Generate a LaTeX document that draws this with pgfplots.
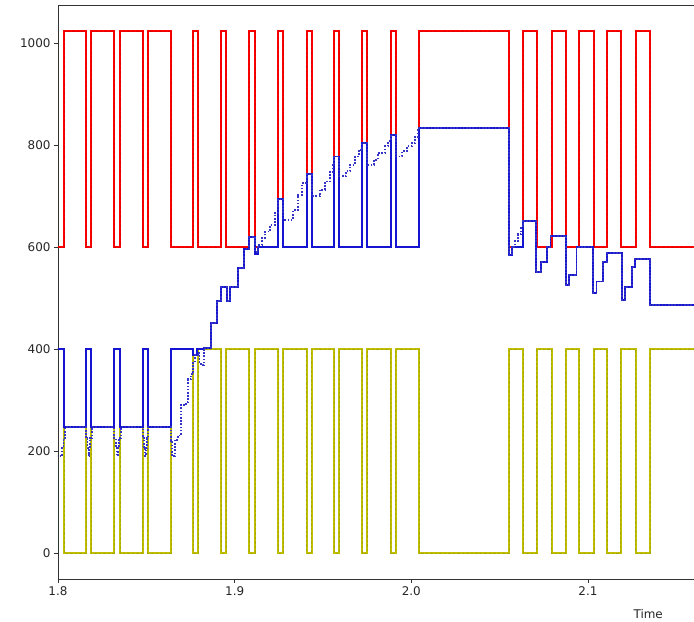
\documentclass[border=0pt]{standalone}
\usepackage{pgfplots}
\pgfplotsset{compat=1.18}
\usepackage{fontspec}
\setmainfont{DejaVu Sans}
\definecolor{mred}{rgb}{1,0,0}
\definecolor{myel}{rgb}{0.75,0.75,0}
\definecolor{mblue}{rgb}{0.08,0.08,0.82}
\definecolor{mblued}{rgb}{0.2,0.2,0.78}
\begin{document}
\begin{tikzpicture}
\begin{axis}[
  scale only axis, width=636bp, height=573.9bp,
  xmin=1.8, xmax=2.16, ymin=-51.15, ymax=1074.15,
  xtick={1.8,1.9,2.0,2.1}, xticklabels={1.8,1.9,2.0,2.1},
  ytick={0,200,400,600,800,1000},
  /pgf/number format/1000 sep={},
  tick pos=left, tick align=outside, major tick length=4bp,
  tick style={black!80, line width=0.6bp},
  axis line style={black!80, line width=0.6bp},
  ticklabel style={font=\fontsize{12}{14}\selectfont, text=black!85},
  /pgf/number format/assume math mode=true,
  xlabel={Time},
  xlabel style={font=\fontsize{12}{14}\selectfont, text=black!85, at={(rel axis cs:0.928,0)}, anchor=north, yshift=-27bp},
  clip=true,
]
\coordinate (bl) at (rel axis cs:0,0);
\coordinate (tr) at (rel axis cs:1,1);
\pgfplotstableread{
t v
1.79 600
1.8034 1023
1.8158 600
1.8187 1023
1.8319 600
1.8353 1023
1.8479 600
1.8508 1023
1.8640 600
1.8766 1023
1.8794 600
1.8923 1023
1.8951 600
1.9083 1023
1.9115 600
1.9247 1023
1.9275 600
1.9408 1023
1.9436 600
1.9564 1023
1.9592 600
1.9722 1023
1.9751 600
1.9883 1023
1.9911 600
2.0045 1023
2.0553 600
2.0634 1023
2.0710 600
2.0794 1023
2.0874 600
2.0949 1023
2.1034 600
2.1109 1023
2.1185 600
2.1270 1023
2.1351 600
2.17 600
}\redtab
\pgfplotstableread{
t v
1.79 400
1.8034 0
1.8158 400
1.8187 0
1.8319 400
1.8353 0
1.8479 400
1.8508 0
1.8640 400
1.8766 0
1.8794 400
1.8923 0
1.8951 400
1.9083 0
1.9115 400
1.9247 0
1.9275 400
1.9408 0
1.9436 400
1.9564 0
1.9592 400
1.9722 0
1.9751 400
1.9883 0
1.9911 400
2.0045 0
2.0553 400
2.0634 0
2.0710 400
2.0794 0
2.0874 400
2.0949 0
2.1034 400
2.1109 0
2.1185 400
2.1270 0
2.1351 400
2.17 400
}\yeltab
\pgfplotstableread{
t v
1.79 400
1.8034 246
1.8158 400
1.8187 246
1.8319 400
1.8353 246
1.8479 400
1.8508 246
1.8640 400
1.8766 388
1.8788 400
1.8826 402
1.8864 451
1.8898 494
1.8923 522
1.8955 493
1.8973 521
1.9020 558
1.9054 595
1.9083 620
1.9115 586
1.9134 600
1.9247 694
1.9275 600
1.9408 743
1.9436 600
1.9564 777
1.9592 600
1.9722 803
1.9751 600
1.9883 820
1.9911 600
2.0045 833
2.0553 584
2.0568 600
2.0634 650
2.0705 550
2.0732 571
2.0766 600
2.0788 622
2.0874 525
2.0892 545
2.0935 600
2.1029 509
2.1048 532
2.1086 571
2.1105 588
2.1190 496
2.1209 522
2.1247 561
2.1266 576
2.1351 486
2.17 486
}\bluetab
\pgfplotstableread{
t v
1.79 190
1.8025 205
1.8031 225
1.8040 246
1.8158 225
1.8167 205
1.8173 190
1.8178 205
1.8183 225
1.8190 246
1.8319 225
1.8328 205
1.8334 190
1.8339 205
1.8344 225
1.8355 246
1.8479 225
1.8488 205
1.8494 190
1.8499 205
1.8504 225
1.8510 246
1.8640 220
1.8645 190
1.8662 222
1.8679 230
1.8696 290
1.8727 295
1.8736 340
1.8753 350
1.8764 372
1.8775 388
1.8794 392
1.8801 370
1.8818 368
1.8824 402
1.8864 451
1.8898 494
1.8923 522
1.8955 493
1.8973 521
1.9020 558
1.9054 595
1.9083 620
1.9115 590
1.9134 604
1.9155 618
1.9172 630
1.9200 643
1.9228 666
1.9247 694
1.9275 653
1.9330 672
1.9358 702
1.9381 725
1.9408 743
1.9436 699
1.9483 712
1.9511 728
1.9540 747
1.9556 760
1.9564 777
1.9592 738
1.9630 748
1.9653 761
1.9681 777
1.9704 790
1.9722 803
1.9751 761
1.9789 771
1.9811 784
1.9851 797
1.9868 807
1.9883 820
1.9911 777
1.9947 787
1.9975 797
2.0004 804
2.0021 816
2.0038 829
2.0045 833
2.0553 584
2.0568 600
2.0587 612
2.0604 625
2.0622 640
2.0634 650
2.0705 550
2.0732 571
2.0766 600
2.0788 622
2.0874 525
2.0892 545
2.0935 600
2.1029 509
2.1048 532
2.1086 571
2.1105 588
2.1190 496
2.1209 522
2.1247 561
2.1266 576
2.1351 486
2.17 486
}\bluedtab
\addplot[const plot, mred, line width=1.9bp] table[x=t,y=v] {\redtab};
\addplot[const plot, red!65!black, opacity=0.35, line width=0.6bp, dash pattern=on 2.5bp off 2bp] table[x=t,y=v] {\redtab};
\addplot[const plot, myel, line width=1.9bp] table[x=t,y=v] {\yeltab};
\addplot[const plot, myel!60!black, opacity=0.3, line width=0.6bp, dash pattern=on 2.5bp off 2bp] table[x=t,y=v] {\yeltab};
\addplot[const plot, mblue, line width=1.9bp] table[x=t,y=v] {\bluetab};
\addplot[const plot, mblued, line width=1.9bp, dash pattern=on 1.6bp off 1.6bp] table[x=t,y=v] {\bluedtab};
\end{axis}
\pgfresetboundingbox
\path ([shift={(-58bp,-43bp)}]bl) rectangle ([shift={(0bp,5bp)}]tr);
\end{tikzpicture}
\end{document}
